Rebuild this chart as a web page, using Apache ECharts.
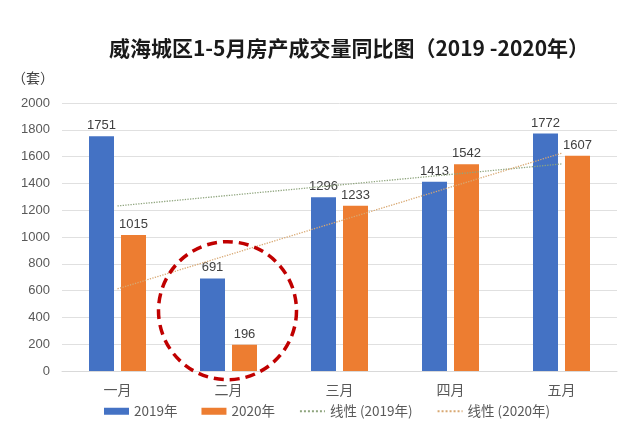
<!DOCTYPE html>
<html><head><meta charset="utf-8">
<script src="https://cdn.jsdelivr.net/npm/echarts@6/dist/echarts.min.js"></script>
<style>html,body{margin:0;padding:0;background:#fff}#c{width:640px;height:429px}</style>
</head><body><div id="c"></div>
<script>
const categories = ['一月','二月','三月','四月','五月'];
const values2019 = [1751, 691, 1296, 1413, 1772];
const values2020 = [1015, 196, 1233, 1542, 1607];
// linear trend lines (start at 一月, end at 五月)
const trend2019 = [1232, null, null, null, 1545];
const trend2020 = [613, null, null, null, 1625];
const yTicks = {min: 0, max: 2000, interval: 200};
const FONT = "'Liberation Sans','Noto Sans CJK SC',sans-serif";
const CJK = "'Noto Sans CJK SC','Liberation Sans',sans-serif";

const chart = echarts.init(document.getElementById('c'), null, {renderer: 'canvas'});
const labelStyle = {show: true, position: 'top', distance: 4, fontSize: 13, color: '#404040', fontFamily: FONT};
chart.setOption({
  animation: false,
  backgroundColor: '#fff',
  title: {
    text: '威海城区1-5月房产成交量同比图（2019 -2020年）',
    left: 344, top: 33, textAlign: 'center',
    textStyle: {fontSize: 21, fontWeight: 'bold', color: '#1a1a1a', fontFamily: CJK}
  },
  grid: {left: 62, right: 23, top: 103, bottom: 58},
  legend: {
    bottom: 6, left: 99, itemWidth: 25, itemHeight: 7, itemGap: 24,
    textStyle: {fontSize: 13.5, color: '#595959', fontFamily: CJK},
    data: [
      {name: '2019年', icon: 'rect'},
      {name: '2020年', icon: 'rect'},
      {name: '线性 (2019年)', itemStyle: {opacity: 0}},
      {name: '线性 (2020年)', itemStyle: {opacity: 0}}
    ]
  },
  xAxis: {
    type: 'category', data: categories,
    axisLine: {lineStyle: {color: '#d9d9d9'}}, axisTick: {show: false},
    axisLabel: {fontSize: 14, color: '#595959', margin: 12, fontFamily: CJK}
  },
  yAxis: {
    type: 'value', min: yTicks.min, max: yTicks.max, interval: yTicks.interval,
    name: '（套）', nameLocation: 'end', nameGap: 18,
    nameTextStyle: {fontSize: 14, color: '#404040', fontFamily: CJK, align: 'right', padding: [0, 8, 0, 0]},
    axisLabel: {fontSize: 13, color: '#595959', fontFamily: FONT, margin: 12, formatter: v => String(v)},
    splitLine: {lineStyle: {color: '#e0e0e0'}},
    axisLine: {show: false}, axisTick: {show: false}
  },
  series: [
    {name: '2019年', type: 'bar', data: values2019, barWidth: 25, barGap: '28%',
     itemStyle: {color: '#4472C4'}, label: labelStyle},
    {name: '2020年', type: 'bar', data: values2020, barWidth: 25,
     itemStyle: {color: '#ED7D31'}, label: labelStyle},
    {name: '线性 (2019年)', type: 'line', data: trend2019, connectNulls: true, symbol: 'none',
     itemStyle: {color: '#8fa57e'}, lineStyle: {color: '#8fa57e', width: 1.3, type: 'dotted'}, z: 5},
    {name: '线性 (2020年)', type: 'line', data: trend2020, connectNulls: true, symbol: 'none',
     itemStyle: {color: '#d8a872'}, lineStyle: {color: '#d8a872', width: 1.3, type: 'dotted'}, z: 5}
  ]
});
const center = chart.convertToPixel({gridIndex: 0}, ['二月', 450]);
chart.setOption({
  graphic: [{
    type: 'circle', silent: true, z: 10,
    shape: {cx: center[0] - 1, cy: center[1], r: 69},
    style: {fill: 'none', stroke: '#C00000', lineWidth: 3.5, lineDash: [10, 6]}
  }]
});
</script></body></html>
